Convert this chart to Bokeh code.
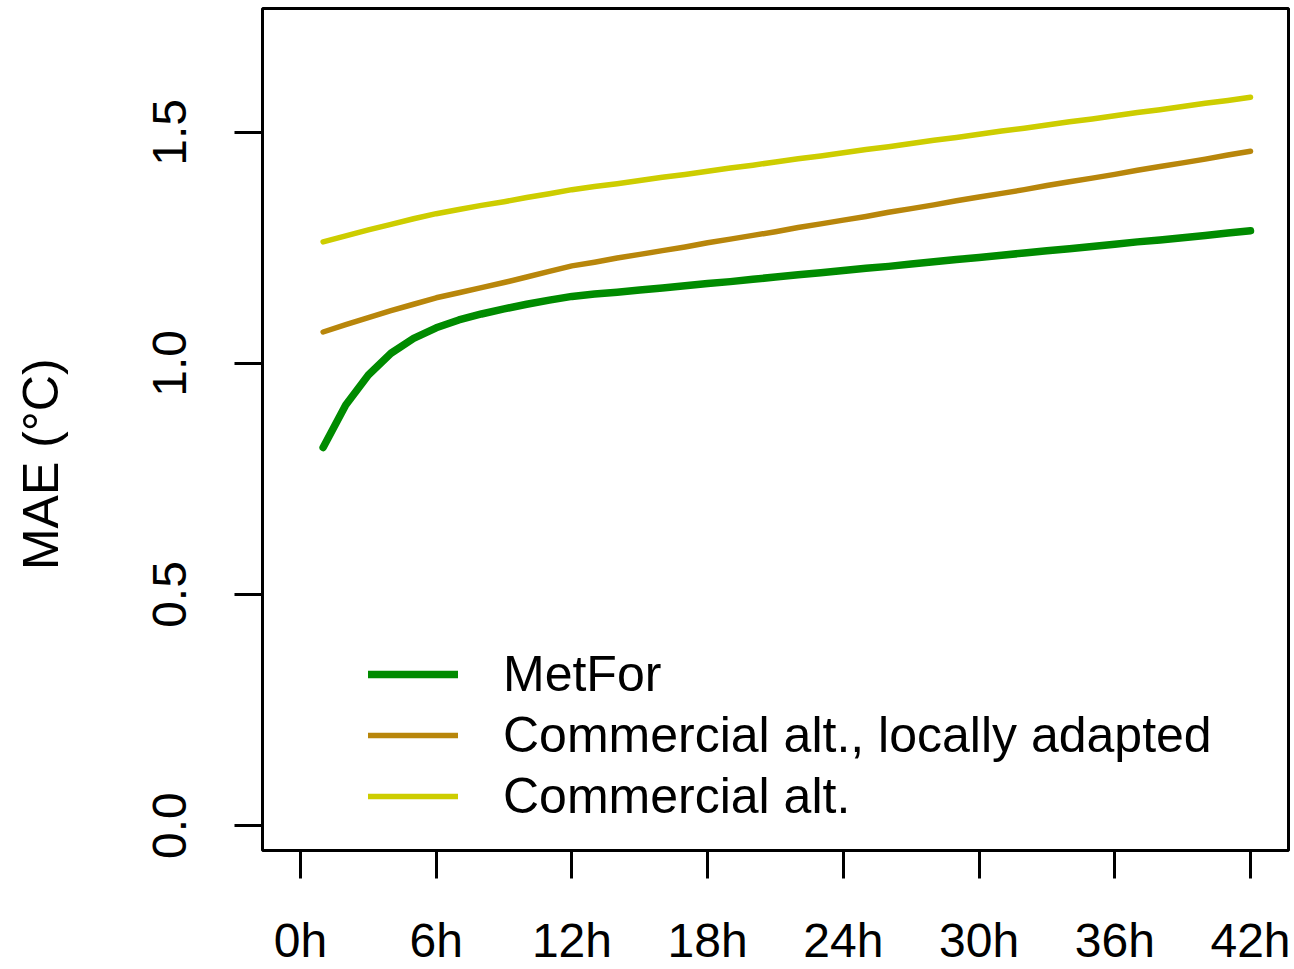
from bokeh.plotting import figure
from bokeh.models import Range1d, FixedTicker, Legend, LegendItem, ColumnDataSource
from bokeh.embed import file_html
from bokeh.resources import INLINE

hours = list(range(1, 43))
metfor = [0.818, 0.910, 0.975, 1.022, 1.054, 1.077, 1.094, 1.107, 1.118, 1.128, 1.137, 1.145,
          1.150, 1.154, 1.159, 1.163, 1.168, 1.173, 1.177, 1.182, 1.187, 1.192, 1.196, 1.201,
          1.206, 1.210, 1.215, 1.220, 1.225, 1.229, 1.234, 1.239, 1.244, 1.248, 1.253, 1.258,
          1.263, 1.267, 1.272, 1.277, 1.282, 1.287]
comm_local = [1.068, 1.084, 1.099, 1.114, 1.128, 1.142, 1.153, 1.164, 1.175, 1.187, 1.199, 1.211,
              1.219, 1.228, 1.236, 1.244, 1.252, 1.261, 1.269, 1.277, 1.285, 1.294, 1.302, 1.310,
              1.318, 1.327, 1.335, 1.343, 1.352, 1.360, 1.368, 1.376, 1.385, 1.393, 1.401, 1.409,
              1.418, 1.426, 1.434, 1.442, 1.451, 1.459]
comm = [1.263, 1.276, 1.289, 1.301, 1.313, 1.324, 1.333, 1.342, 1.350, 1.359, 1.367, 1.376,
        1.383, 1.389, 1.396, 1.403, 1.409, 1.416, 1.423, 1.429, 1.436, 1.443, 1.449, 1.456,
        1.463, 1.469, 1.476, 1.483, 1.489, 1.496, 1.503, 1.509, 1.516, 1.523, 1.529, 1.536,
        1.543, 1.549, 1.556, 1.563, 1.569, 1.576]

series_names = ["MetFor", "Commercial alt., locally adapted", "Commercial alt."]
series_colors = ["#008B00", "#B8860B", "#CDCD00"]
series_widths = [7.5, 5.5, 5.5]

x_ticks = [0, 6, 12, 18, 24, 30, 36, 42]
x_tick_labels = ["0h", "6h", "12h", "18h", "24h", "30h", "36h", "42h"]
y_ticks = [0.0, 0.5, 1.0, 1.5]
y_tick_labels = ["0.0", "0.5", "1.0", "1.5"]
y_label = "MAE (°C)"

FONT = "Liberation Sans"
FS = "48px"
FS_BIG = "50px"

p = figure(width=1294, height=969, x_range=Range1d(-1.68, 43.68), y_range=Range1d(-0.054, 1.768),
           output_backend="svg", toolbar_location=None,
           min_border_left=262, min_border_right=6, min_border_top=8, min_border_bottom=113)
p.background_fill_color = "white"
p.border_fill_color = "white"
p.outline_line_color = "black"
p.outline_line_width = 3
p.xgrid.visible = False
p.ygrid.visible = False

for ax in (p.xaxis[0], p.yaxis[0]):
    ax.axis_line_color = None
    ax.major_tick_in = 0
    ax.major_tick_out = 28
    ax.major_tick_line_width = 3
    ax.major_tick_line_color = "black"
    ax.minor_tick_line_color = None
    ax.major_label_text_font = FONT
    ax.major_label_text_font_size = FS
    ax.major_label_text_color = "black"

p.xaxis.ticker = FixedTicker(ticks=x_ticks)
p.xaxis.major_label_overrides = {t: l for t, l in zip(x_ticks, x_tick_labels)}
p.xaxis.major_label_standoff = 35
p.yaxis.ticker = FixedTicker(ticks=y_ticks)
p.yaxis.major_label_overrides = {t: l for t, l in zip(y_ticks, y_tick_labels)}
p.yaxis.major_label_orientation = "vertical"
p.yaxis.major_label_standoff = 48
# the label sits a little below the centre of the frame in the reference,
# so pad its (upper) end with non-breaking spaces
p.yaxis.axis_label = y_label + "\u00a0" * 5
p.yaxis.axis_label_text_font = FONT
p.yaxis.axis_label_text_font_size = FS_BIG
p.yaxis.axis_label_text_font_style = "normal"
p.yaxis.axis_label_text_color = "black"
p.yaxis.axis_label_standoff = 82

items = []
for ys, name, col, w in zip([metfor, comm_local, comm], series_names, series_colors, series_widths):
    src = ColumnDataSource(dict(x=hours, y=ys))
    r = p.line("x", "y", source=src, line_color=col, line_width=w, line_cap="round", line_join="round")
    items.append(LegendItem(label=name, renderers=[r]))

legend = Legend(items=items, location=(106, 24))
legend.border_line_color = None
legend.background_fill_alpha = 0
legend.padding = 0
legend.margin = 0
legend.spacing = 1
legend.glyph_width = 90
legend.glyph_height = 60
legend.label_height = 60
legend.label_standoff = 45
legend.label_text_font = FONT
legend.label_text_font_size = FS_BIG
legend.label_text_color = "black"
p.add_layout(legend)

open("out.html", "w").write(file_html(p, INLINE))
